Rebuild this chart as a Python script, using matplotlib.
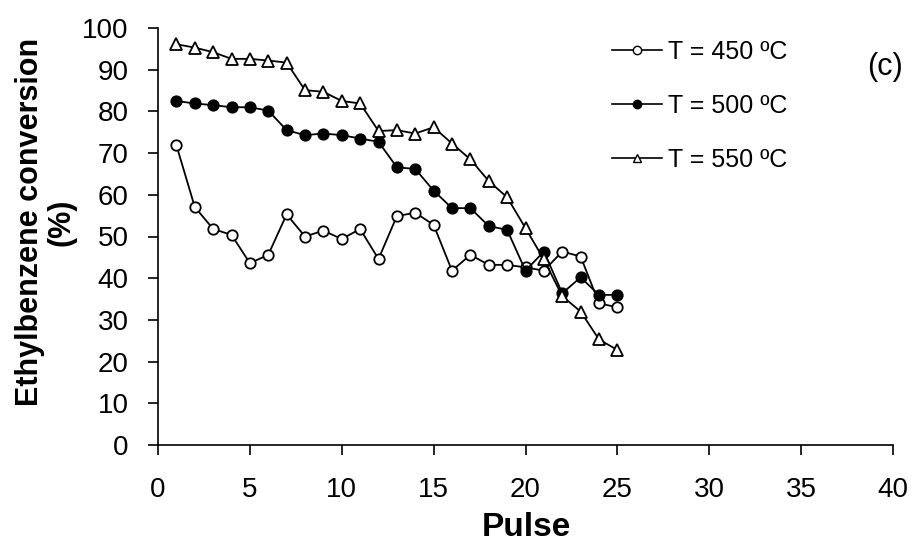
import matplotlib
matplotlib.use("Agg")
import matplotlib.pyplot as plt
from matplotlib.lines import Line2D

plt.rcParams['font.family'] = ['Liberation Sans', 'DejaVu Sans']

pulse = list(range(1, 26))
t450 = [71.9, 57.1, 51.8, 50.4, 43.6, 45.6, 55.3, 50.0, 51.4, 49.4, 51.8, 44.6, 54.9,
        55.7, 52.8, 41.8, 45.6, 43.2, 43.2, 42.6, 41.8, 46.4, 45.2, 34.0, 33.0]
t500 = [82.5, 81.9, 81.5, 81.0, 81.0, 80.2, 75.5, 74.3, 74.7, 74.3, 73.5, 72.7, 66.6,
        66.2, 61.0, 56.8, 56.8, 52.5, 51.6, 41.8, 46.4, 36.4, 40.2, 36.0, 36.0]
t550 = [96.1, 95.3, 94.2, 92.6, 92.6, 92.2, 91.7, 85.1, 84.7, 82.5, 81.9, 75.3, 75.5,
        74.7, 76.2, 72.3, 68.5, 63.3, 59.4, 52.0, 44.5, 35.7, 32.0, 25.3, 22.8]
labels = ['T = 450 ºC', 'T = 500 ºC', 'T = 550 ºC']
xticks = [0, 5, 10, 15, 20, 25, 30, 35, 40]
yticks = [0, 10, 20, 30, 40, 50, 60, 70, 80, 90, 100]

fig = plt.figure(figsize=(9.16, 5.5), dpi=100)
ax = fig.add_axes([158/916, 1-445/550, (893-158)/916, (445-28)/550])

ms = 7.5
ax.plot(pulse, t450, '-', color='black', lw=1.3, marker='o', ms=ms, mfc='white', mec='black', mew=1.3)
ax.plot(pulse, t500, '-', color='black', lw=1.3, marker='o', ms=ms, mfc='black', mec='black', mew=1.3)
ax.plot(pulse, t550, '-', color='black', lw=1.3, marker='^', ms=ms+1, mfc='white', mec='black', mew=1.3)

ax.set_xlim(0, 40)
ax.set_ylim(0, 100)
ax.set_xticks(xticks)
ax.set_yticks(yticks)
ax.tick_params(labelsize=20, direction='out', length=7, width=1.2)
ax.tick_params(axis='y', pad=14)
ax.tick_params(axis='x', pad=16)
for s in ['top', 'right']:
    ax.spines[s].set_visible(False)
for s in ['left', 'bottom']:
    ax.spines[s].set_linewidth(1.2)

fig.text(526/916, 1-527/550, 'Pulse', fontsize=24, fontweight='bold', ha='center', va='center')
fig.text(30/916, 1-222/550, 'Ethylbenzene conversion', fontsize=22, fontweight='bold',
         ha='center', va='center', rotation=90)
fig.text(62/916, 1-222/550, '(%)', fontsize=22, fontweight='bold',
         ha='center', va='center', rotation=90)

handles = [
    Line2D([], [], color='black', lw=1.2, marker='o', ms=6, mfc='white', mec='black'),
    Line2D([], [], color='black', lw=1.2, marker='o', ms=6, mfc='black', mec='black'),
    Line2D([], [], color='black', lw=1.2, marker='^', ms=6, mfc='white', mec='black'),
]
ax.legend(handles, labels, loc='center left', bbox_to_anchor=(612/916, 1-106/550),
          bbox_transform=fig.transFigure, frameon=False, fontsize=18,
          handlelength=2.0, handletextpad=0.25, labelspacing=1.2, borderaxespad=0,
          borderpad=0)

fig.text(885/916, 1-67/550, '(c)', fontsize=22, ha='center', va='center')

fig.savefig('out.png', dpi=100)
